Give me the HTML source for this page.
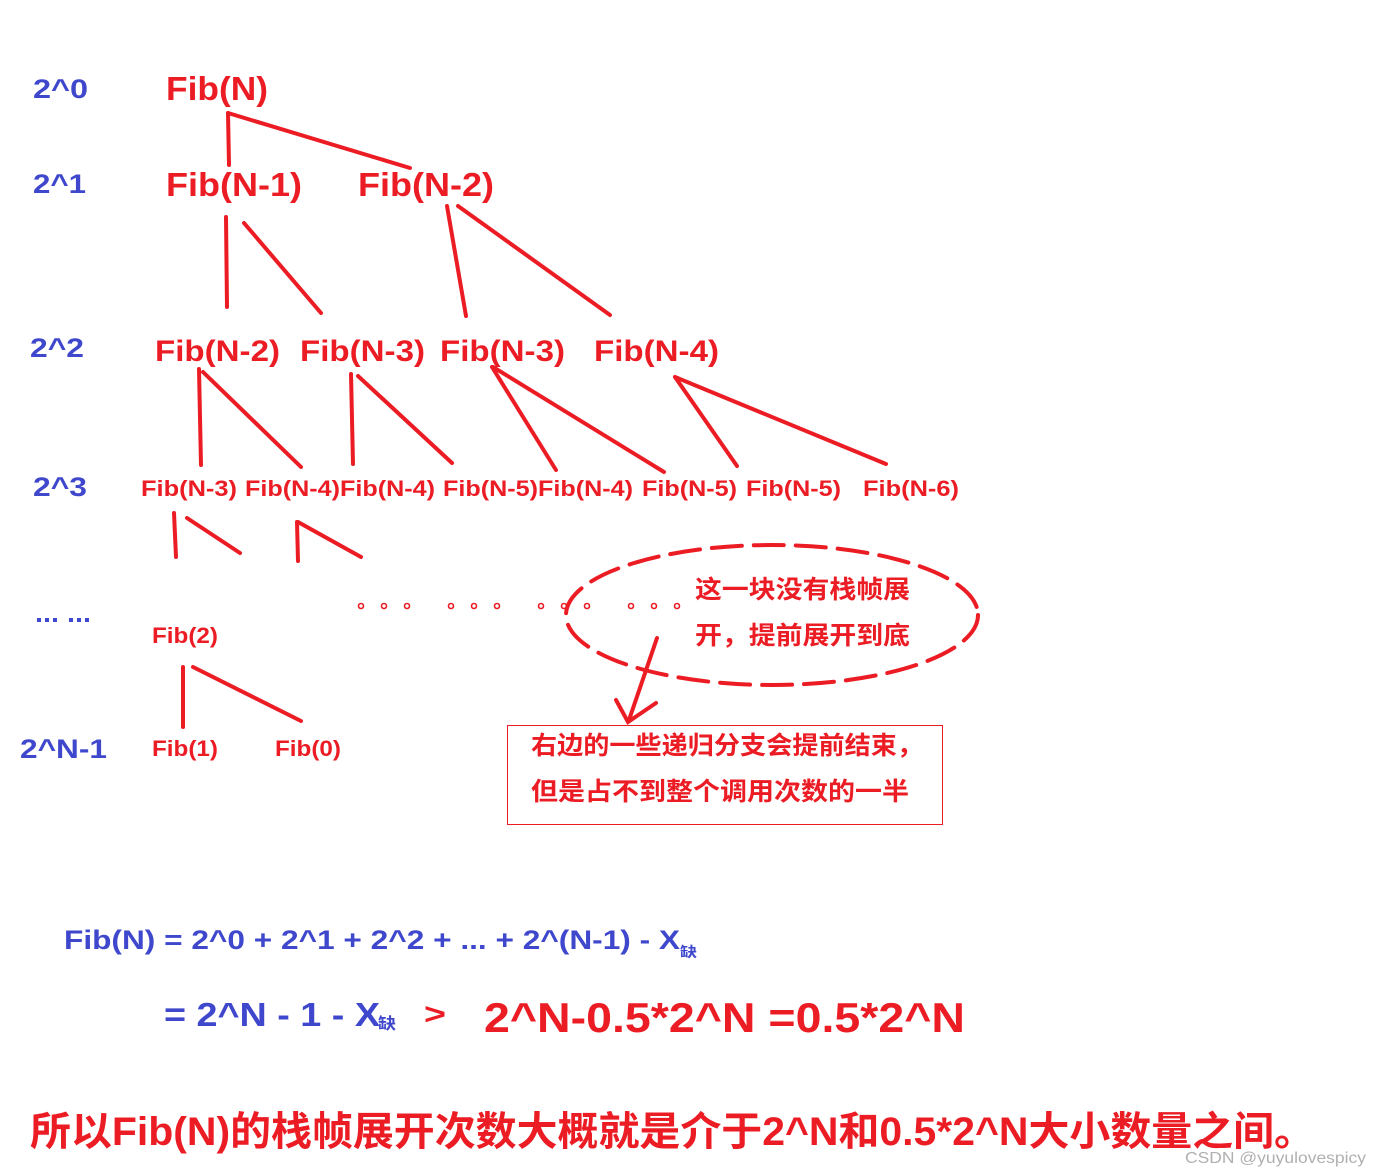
<!DOCTYPE html>
<html><head><meta charset="utf-8"><style>
html,body{margin:0;padding:0;background:#fff;width:1382px;height:1176px;overflow:hidden}
svg{display:block}
text{font-family:"Liberation Sans","Noto Sans CJK SC",sans-serif;font-weight:bold}
.r{fill:#ec1c24}.b{fill:#3f48cc}
</style></head><body>
<svg width="1382" height="1176" viewBox="0 0 1382 1176" xmlns="http://www.w3.org/2000/svg">
<g class="b" font-size="27">
<text x="33" y="98" textLength="55" lengthAdjust="spacingAndGlyphs">2^0</text>
<text x="33" y="193" textLength="53" lengthAdjust="spacingAndGlyphs">2^1</text>
<text x="30" y="357" textLength="54" lengthAdjust="spacingAndGlyphs">2^2</text>
<text x="33" y="496" textLength="54" lengthAdjust="spacingAndGlyphs">2^3</text>
<text x="35" y="622" textLength="56" lengthAdjust="spacingAndGlyphs">... ...</text>
<text x="20" y="758" textLength="87" lengthAdjust="spacingAndGlyphs">2^N-1</text>
</g>
<g class="r">
<text x="166" y="100" font-size="33" textLength="102" lengthAdjust="spacingAndGlyphs">Fib(N)</text>
<text x="166" y="196" font-size="33" textLength="136" lengthAdjust="spacingAndGlyphs">Fib(N-1)</text>
<text x="358" y="196" font-size="33" textLength="136" lengthAdjust="spacingAndGlyphs">Fib(N-2)</text>
<g font-size="30">
<text x="155" y="361" textLength="125" lengthAdjust="spacingAndGlyphs">Fib(N-2)</text>
<text x="300" y="361" textLength="125" lengthAdjust="spacingAndGlyphs">Fib(N-3)</text>
<text x="440" y="361" textLength="125" lengthAdjust="spacingAndGlyphs">Fib(N-3)</text>
<text x="594" y="361" textLength="125" lengthAdjust="spacingAndGlyphs">Fib(N-4)</text>
</g>
<g font-size="22">
<text x="141" y="496" textLength="96" lengthAdjust="spacingAndGlyphs">Fib(N-3)</text>
<text x="245" y="496" textLength="95" lengthAdjust="spacingAndGlyphs">Fib(N-4)</text>
<text x="340" y="496" textLength="95" lengthAdjust="spacingAndGlyphs">Fib(N-4)</text>
<text x="443" y="496" textLength="95" lengthAdjust="spacingAndGlyphs">Fib(N-5)</text>
<text x="538" y="496" textLength="95" lengthAdjust="spacingAndGlyphs">Fib(N-4)</text>
<text x="642" y="496" textLength="95" lengthAdjust="spacingAndGlyphs">Fib(N-5)</text>
<text x="746" y="496" textLength="95" lengthAdjust="spacingAndGlyphs">Fib(N-5)</text>
<text x="863" y="496" textLength="96" lengthAdjust="spacingAndGlyphs">Fib(N-6)</text>
<text x="152" y="643" textLength="66" lengthAdjust="spacingAndGlyphs">Fib(2)</text>
<text x="152" y="756" textLength="66" lengthAdjust="spacingAndGlyphs">Fib(1)</text>
<text x="275" y="756" textLength="66" lengthAdjust="spacingAndGlyphs">Fib(0)</text>
</g>
<g font-size="25">
<text x="695" y="598" textLength="215" lengthAdjust="spacingAndGlyphs">这一块没有栈帧展</text>
<text x="695" y="644" textLength="215" lengthAdjust="spacingAndGlyphs">开，提前展开到底</text>
<text x="531" y="754" textLength="392" lengthAdjust="spacingAndGlyphs">右边的一些递归分支会提前结束，</text>
<text x="531" y="800" textLength="378" lengthAdjust="spacingAndGlyphs">但是占不到整个调用次数的一半</text>
</g>
</g>
<g stroke="#ec1c24" stroke-width="4" stroke-linecap="round" fill="none">
<line x1="228" y1="113" x2="229" y2="165"/><line x1="228" y1="113" x2="410" y2="168"/>
<line x1="226" y1="217" x2="227" y2="307"/><line x1="244" y1="223" x2="321" y2="313"/>
<line x1="447" y1="206" x2="466" y2="316"/><line x1="458" y1="206" x2="610" y2="315"/>
<line x1="199" y1="369" x2="201" y2="465"/><line x1="203" y1="372" x2="301" y2="467"/>
<line x1="351" y1="374" x2="353" y2="464"/><line x1="358" y1="376" x2="452" y2="463"/>
<line x1="492" y1="367" x2="556" y2="470"/><line x1="493" y1="367" x2="664" y2="472"/>
<line x1="675" y1="377" x2="737" y2="466"/><line x1="675" y1="377" x2="886" y2="464"/>
<line x1="174" y1="513" x2="176" y2="557"/><line x1="187" y1="518" x2="240" y2="553"/>
<line x1="297" y1="522" x2="298" y2="561"/><line x1="298" y1="522" x2="361" y2="557"/>
<line x1="183" y1="667" x2="183" y2="727"/><line x1="193" y1="667" x2="301" y2="721"/>
<line x1="657" y1="638" x2="629" y2="720"/>
<polyline points="616,700 628,722 656,703"/>
<ellipse cx="772" cy="615" rx="206" ry="70" stroke-width="4" stroke-dasharray="30 12"/>
</g>
<g stroke="#ec1c24" stroke-width="1.6" fill="none">
<circle cx="361" cy="606" r="2.5"/><circle cx="384" cy="606" r="2.5"/><circle cx="407" cy="606" r="2.5"/>
<circle cx="451" cy="606" r="2.5"/><circle cx="474" cy="606" r="2.5"/><circle cx="497" cy="606" r="2.5"/>
<circle cx="541" cy="606" r="2.5"/><circle cx="564" cy="606" r="2.5"/><circle cx="587" cy="606" r="2.5"/>
<circle cx="631" cy="606" r="2.5"/><circle cx="654" cy="606" r="2.5"/><circle cx="677" cy="606" r="2.5"/>
</g>
<rect x="507.5" y="725.5" width="435" height="99" fill="none" stroke="#ec1c24" stroke-width="1"/>
<g class="b">
<text x="64" y="949" font-size="27" textLength="616" lengthAdjust="spacingAndGlyphs">Fib(N) = 2^0 + 2^1 + 2^2 + ... + 2^(N-1) - X</text>
<text x="680" y="957" font-size="14" textLength="17" lengthAdjust="spacingAndGlyphs">缺</text>
<text x="164" y="1026" font-size="33" textLength="216" lengthAdjust="spacingAndGlyphs">= 2^N - 1 - X</text>
<text x="378" y="1029" font-size="16" textLength="18" lengthAdjust="spacingAndGlyphs">缺</text>
</g>
<g class="r">
<text x="424" y="1024" font-size="30" textLength="22" lengthAdjust="spacingAndGlyphs">&gt;</text>
<text x="484" y="1032" font-size="42" textLength="481" lengthAdjust="spacingAndGlyphs">2^N-0.5*2^N =0.5*2^N</text>
<text x="30" y="1145" font-size="40" textLength="1285" lengthAdjust="spacingAndGlyphs">所以Fib(N)的栈帧展开次数大概就是介于2^N和0.5*2^N大小数量之间。</text>
</g>
<text x="1185" y="1163" font-size="16" font-weight="normal" style="font-weight:normal" fill="#b0b0b0" textLength="181" lengthAdjust="spacingAndGlyphs">CSDN @yuyulovespicy</text>
</svg>
</body></html>
